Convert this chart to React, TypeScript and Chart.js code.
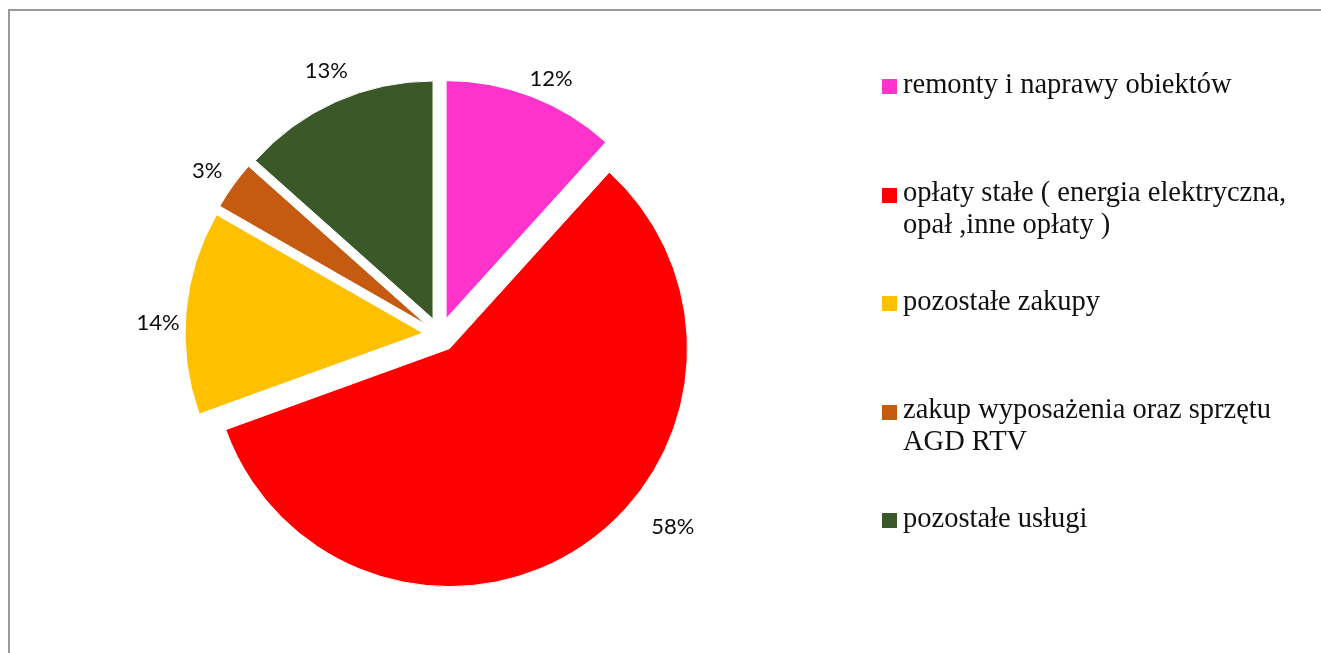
import React, { useEffect, useRef } from "react";
import { Chart, registerables } from "chart.js";

Chart.register(...registerables);

// ---- data ----
const categories: string[] = [
  "remonty i naprawy obiektów",
  "opłaty stałe ( energia elektryczna, opał ,inne opłaty )",
  "pozostałe zakupy",
  "zakup wyposażenia oraz sprzętu AGD RTV",
  "pozostałe usługi",
];
const shares: number[] = [11.7, 57.7, 13.8, 3.3, 13.4];
const sliceColors: string[] = ["#FF33CC", "#FF0000", "#FFC000", "#C55A11", "#3B5828"];

const W = 1321;
const H = 653;

const explodePlugin = {
  id: "explode",
  beforeDatasetsDraw(chart: any, _args: any, opts: any) {
    const ctx = chart.ctx;
    const meta = chart.getDatasetMeta(0);
    const d = opts.distance || 0;
    meta.data.forEach((arc: any) => {
      const a = (arc.startAngle + arc.endAngle) / 2;
      ctx.save();
      ctx.translate(Math.cos(a) * d, Math.sin(a) * d);
      arc.draw(ctx);
      ctx.restore();
    });
    return false;
  },
  afterDraw(chart: any, _args: any, opts: any) {
    const ctx = chart.ctx;
    const meta = chart.getDatasetMeta(0);
    const d = opts.distance || 0;
    const values: number[] = chart.data.datasets[0].data;
    const total = values.reduce((s, v) => s + v, 0);
    ctx.save();
    ctx.font = opts.font;
    ctx.fillStyle = opts.color;
    ctx.textAlign = "center";
    ctx.textBaseline = "alphabetic";
    meta.data.forEach((arc: any, i: number) => {
      const a = (arc.startAngle + arc.endAngle) / 2;
      const cx = arc.x + Math.cos(a) * d;
      const cy = arc.y + Math.sin(a) * d;
      const la = a + ((opts.angleAdjust[i] || 0) * Math.PI) / 180;
      const rr = arc.outerRadius + (opts.labelDistance[i] || 28);
      const x = cx + Math.cos(la) * rr;
      const y = cy + Math.sin(la) * rr;
      const txt = Math.round((values[i] / total) * 100) + "%";
      ctx.fillText(txt, x, y + opts.baselineShift);
    });
    ctx.restore();
  },
};

export default function App() {
  const canvasRef = useRef<HTMLCanvasElement | null>(null);

  useEffect(() => {
    if (!canvasRef.current) return;
    const chart = new Chart(canvasRef.current, {
      type: "pie",
      data: {
        labels: categories,
        datasets: [
          {
            data: shares,
            backgroundColor: sliceColors,
            borderColor: "#FFFFFF",
            borderWidth: 1,
          },
        ],
      },
      options: {
        responsive: false,
        animation: false,
        radius: 238,
        layout: { padding: { left: 0, top: 16, right: 441, bottom: 0 } },
        plugins: {
          legend: { display: false },
          tooltip: { enabled: false },
          explode: {
            distance: 17,
            font: '22px Lato',
            color: "#0d0d0d",
            baselineShift: 8,
            angleAdjust: [2.5, -17.65, -2.55, -0.55, 0.95],
            labelDistance: [24.5, 47.3, 27.3, 30.2, 32.8],
          },
        } as any,
      },
      plugins: [explodePlugin as any],
    });
    return () => chart.destroy();
  }, []);

  return (
    <div
      style={{
        position: "fixed",
        left: 0,
        top: 0,
        width: W,
        height: H,
        overflow: "hidden",
        background: "#FFFFFF",
      }}
    >
      <div
        style={{
          position: "absolute",
          left: 8,
          top: 9,
          width: 1400,
          height: 700,
          borderLeft: "2px solid #9a9a9a",
          borderTop: "2px solid #9a9a9a",
        }}
      />
      <canvas
        ref={canvasRef}
        width={W}
        height={H}
        style={{ position: "absolute", left: 0, top: 0, width: W, height: H }}
      />
      {categories.map((label, i) => (
        <div
          key={label}
          style={{
            position: "absolute",
            left: 882,
            top: 67.6 + i * 108.5,
            width: 436,
          }}
        >
          <div
            style={{
              position: "absolute",
              left: 0,
              top: 11.5,
              width: 15,
              height: 15,
              background: sliceColors[i],
            }}
          />
          <div
            style={{
              marginLeft: 21,
              fontFamily: '"Liberation Serif", serif',
              fontSize: 28.5,
              lineHeight: "32px",
              color: "#111111",
            }}
          >
            {label}
          </div>
        </div>
      ))}
    </div>
  );
}
